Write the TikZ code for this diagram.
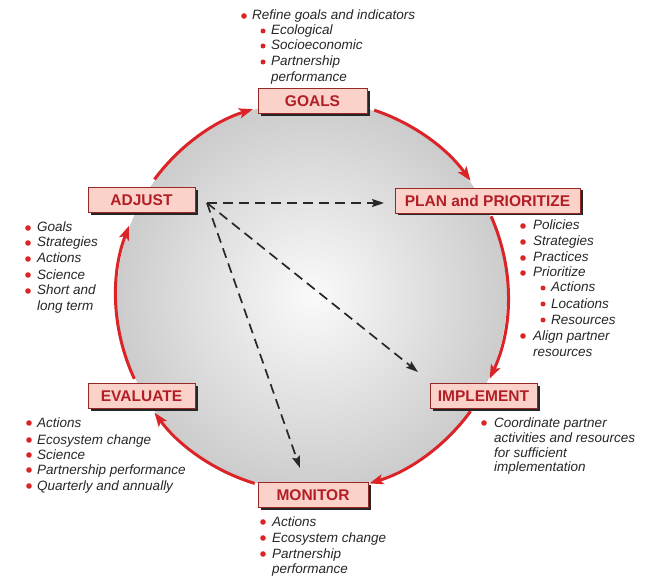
\documentclass[tikz,border=0pt]{standalone}
\usepackage{fontspec}
\setmainfont{Liberation Sans}
\usetikzlibrary{arrows.meta,shadows}
\definecolor{boxred}{RGB}{178,30,38}
\definecolor{boxline}{RGB}{150,40,40}
\definecolor{arcred}{RGB}{218,36,40}
\definecolor{boxfill}{RGB}{250,210,202}
\definecolor{txt}{RGB}{38,38,38}
\definecolor{dashc}{RGB}{40,40,40}
\tikzset{
  stage/.style={draw=boxline, line width=0.7pt, fill=boxfill, text=boxred,
    font=\fontsize{15.5}{18}\selectfont\bfseries, inner sep=0pt, minimum height=25pt,
    drop shadow={shadow xshift=2.5pt, shadow yshift=-2.5pt, fill=black!85, opacity=1}},
  itm/.style={anchor=base west, inner sep=0pt, text=txt, font=\fontsize{13.5}{15}\selectfont\itshape},
  cyc/.style={draw=arcred, line width=3pt, -{Stealth[length=14pt,width=10pt,inset=3pt]}},
  dsh/.style={draw=dashc, line width=1.7pt, dash pattern=on 10pt off 6pt, -{Stealth[length=12pt,width=8pt,inset=2pt]}},
  bul/.style={fill=arcred},
}
\begin{document}
\begin{tikzpicture}[x=1pt,y=1pt]
\useasboundingbox (0,0) rectangle (652,576);
\coordinate (c) at (312,280);
\shade[inner color=gray!4, outer color=gray!40] (c) circle (195);

% cycle arcs
\draw[cyc] (c) ++(143.5:196) arc[start angle=143.5, end angle=107.5, radius=196];
\draw[cyc] (c) ++(71.5:196) arc[start angle=71.5, end angle=36, radius=196];
\draw[cyc] (c) ++(24:196) arc[start angle=24, end angle=-25, radius=196];
\draw[cyc] (c) ++(-36:196) arc[start angle=-36, end angle=-73, radius=196];
\draw[cyc] (c) ++(-107:196) arc[start angle=-107, end angle=-143.5, radius=196];
\draw[cyc] (c) ++(205:196) arc[start angle=205, end angle=159, radius=196];

% dashed arrows
\coordinate (o) at (207,373);
\coordinate (tp) at (384,373);
\coordinate (ti) at (418,204);
\coordinate (tm) at (300,108);
\draw[dsh] (o) -- (tp);
\draw[dsh] (o) -- (ti);
\draw[dsh] (o) -- (tm);

% stage boxes
\node[stage, minimum width=109pt] (goals) at (312.5,475) {GOALS};
\node[stage, minimum width=185pt] (plan) at (487.5,375.5) {PLAN and PRIORITIZE};
\node[stage, minimum width=107pt] (adjust) at (141.5,376) {ADJUST};
\node[stage, minimum width=107pt] (evaluate) at (141.5,180) {EVALUATE};
\node[stage, minimum width=107pt] (implement) at (483.5,180) {IMPLEMENT};
\node[stage, minimum width=110pt] (monitor) at (313,81) {MONITOR};

% GOALS list
\fill[bul] (244,560) circle (2.8);
\node[itm] (g1) at (252,556) {Refine goals and indicators};
\fill[bul] (263,545) circle (2.5);
\node[itm] (g2) at (271,541) {Ecological};
\fill[bul] (263,530) circle (2.5);
\node[itm] (g3) at (271,526) {Socioeconomic};
\fill[bul] (263,514) circle (2.5);
\node[itm] (g4) at (271,510) {Partnership};
\node[itm] (g5) at (271,494) {performance};

% PLAN list
\fill[bul] (523,350) circle (2.8);
\node[itm] (p1) at (533,346) {Policies};
\fill[bul] (523,334) circle (2.8);
\node[itm] (p2) at (533,330) {Strategies};
\fill[bul] (523,318) circle (2.8);
\node[itm] (p3) at (533,314) {Practices};
\fill[bul] (523,303) circle (2.8);
\node[itm] (p4) at (533,299) {Prioritize};
\fill[bul] (543,288) circle (2.5);
\node[itm] (p5) at (551,284) {Actions};
\fill[bul] (543,272) circle (2.5);
\node[itm] (p6) at (551,268) {Locations};
\fill[bul] (543,256) circle (2.5);
\node[itm] (p7) at (551,252) {Resources};
\fill[bul] (523,240) circle (2.8);
\node[itm] (p8) at (533,236) {Align partner};
\node[itm] (p9) at (533,220) {resources};

% ADJUST list
\fill[bul] (28,348) circle (2.8);
\node[itm] (a1) at (37,344) {Goals};
\fill[bul] (28,333) circle (2.8);
\node[itm] (a2) at (37,329) {Strategies};
\fill[bul] (28,317) circle (2.8);
\node[itm] (a3) at (37,313) {Actions};
\fill[bul] (28,301) circle (2.8);
\node[itm] (a4) at (37,297) {Science};
\fill[bul] (28,285) circle (2.8);
\node[itm] (a5) at (37,281) {Short and};
\node[itm] (a6) at (37,266) {long term};

% EVALUATE list
\fill[bul] (29,153) circle (2.8);
\node[itm] (e1) at (37,149) {Actions};
\fill[bul] (29,136) circle (2.8);
\node[itm] (e2) at (37,132) {Ecosystem change};
\fill[bul] (29,121) circle (2.8);
\node[itm] (e3) at (37,117) {Science};
\fill[bul] (29,106) circle (2.8);
\node[itm] (e4) at (37,102) {Partnership performance};
\fill[bul] (29,90) circle (2.8);
\node[itm] (e5) at (37,86) {Quarterly and annually};

% IMPLEMENT list
\fill[bul] (484,153) circle (2.8);
\node[itm] (i1) at (494,149) {Coordinate partner};
\node[itm] (i2) at (494,134) {activities and resources};
\node[itm] (i3) at (494,119) {for sufficient};
\node[itm] (i4) at (494,105) {implementation};

% MONITOR list
\fill[bul] (263,54) circle (2.8);
\node[itm] (m1) at (272,50) {Actions};
\fill[bul] (263,38) circle (2.8);
\node[itm] (m2) at (272,34) {Ecosystem change};
\fill[bul] (263,22) circle (2.8);
\node[itm] (m3) at (272,18) {Partnership};
\node[itm] (m4) at (272,3) {performance};
\end{tikzpicture}
\end{document}
